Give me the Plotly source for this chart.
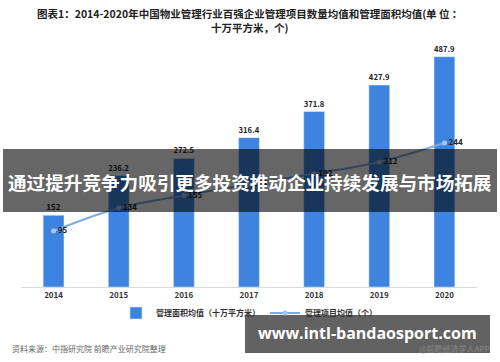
import plotly.graph_objects as go

years = ["2014", "2015", "2016", "2017", "2018", "2019", "2020"]
area_avg = [152, 236.2, 272.5, 316.4, 371.8, 427.9, 487.9]
project_avg = [95, 134, 155, 174, 192, 212, 244]
bar_name = "管理面积均值（十万平方米）"
line_name = "管理项目均值（个）"

FONT = "Noto Sans CJK SC"
L, R, T, B = 21, 477, 51, 287


def px(x):
    return (x - L) / (R - L)


def py(y):
    return (B - y) / (B - T)


fig = go.Figure()
fig.add_trace(go.Bar(
    x=years, y=area_avg, name="<b>" + bar_name + "</b>",
    marker=dict(color="#3d84e0"),
    text=["<b>%s</b>" % v for v in area_avg], textposition="outside",
    textfont=dict(size=8, color="#222222", family=FONT),
    cliponaxis=False, yaxis="y",
))
fig.add_trace(go.Scatter(
    x=years, y=project_avg, name="<b>" + line_name + "</b>",
    mode="lines+markers+text", line=dict(color="#7eaae6", width=2, shape="spline"),
    marker=dict(size=5, color="#a9c6ee"),
    text=["<b>%s</b>" % v for v in project_avg], textposition="middle right",
    textfont=dict(size=8, color="#222222", family=FONT),
    cliponaxis=False, yaxis="y2",
))

fig.update_layout(
    width=500, height=362,
    margin=dict(l=L, r=500 - R, t=T, b=362 - B),
    paper_bgcolor="white", plot_bgcolor="white",
    font=dict(family=FONT, color="#222222"),
    bargap=0.68,
    showlegend=True,
    legend=dict(orientation="h", x=0.5, xanchor="center", y=py(313), yanchor="middle",
                font=dict(size=8, color="#333333", family=FONT), bgcolor="rgba(0,0,0,0)"),
    xaxis=dict(type="category", range=[-0.5, 6.5], showline=True, linecolor="#d9d9d9",
               linewidth=1, ticks="", showgrid=False,
               tickmode="array", tickvals=years, ticktext=["<b>%s</b>" % y for y in years],
               tickfont=dict(size=8, color="#333333", family=FONT)),
    yaxis=dict(range=[0, 500], visible=False, showgrid=False),
    yaxis2=dict(range=[0, 400], visible=False, overlaying="y", showgrid=False),
)

annotations = [
    dict(text="<b>图表1：2014-2020年中国物业管理行业百强企业管理项目数量均值和管理面积均值(单 位 ：</b>",
         x=px(250), y=py(14), font=dict(size=10.5, color="#222222")),
    dict(text="<b>十万平方米，个)</b>", x=px(250), y=py(27), font=dict(size=10.5, color="#222222")),
    dict(text="资料来源：中指研究院 前瞻产业研究院整理", x=px(10), y=py(348), xanchor="left",
         font=dict(size=8, color="#666666")),
    dict(text="<b>通过提升竞争力吸引更多投资推动企业持续发展与市场拓展</b>", x=px(250), y=py(181),
         font=dict(size=18.6, color="white")),
    dict(text="<b>www.intl-bandaosport.com</b>", x=px(367), y=py(333),
         font=dict(size=16, color="white", family="Open Sans")),
    dict(text="@前瞻经济学人APP", x=px(492), y=py(348), xanchor="right",
         font=dict(size=8, color="#888888")),
]
for a in annotations:
    a.setdefault("xanchor", "center")
    a.update(xref="paper", yref="paper", yanchor="middle", showarrow=False)
    fig.add_annotation(**a)

fig.add_shape(type="rect", xref="paper", yref="paper", x0=px(3), x1=px(497), y0=py(212), y1=py(149),
              fillcolor="rgba(0,0,0,0.6)", line=dict(width=0), layer="above")
fig.add_shape(type="rect", xref="paper", yref="paper", x0=px(245), x1=px(490), y0=py(353), y1=py(315),
              fillcolor="rgba(70,70,70,0.85)", line=dict(width=0), layer="above")

fig.write_html("out.html")
